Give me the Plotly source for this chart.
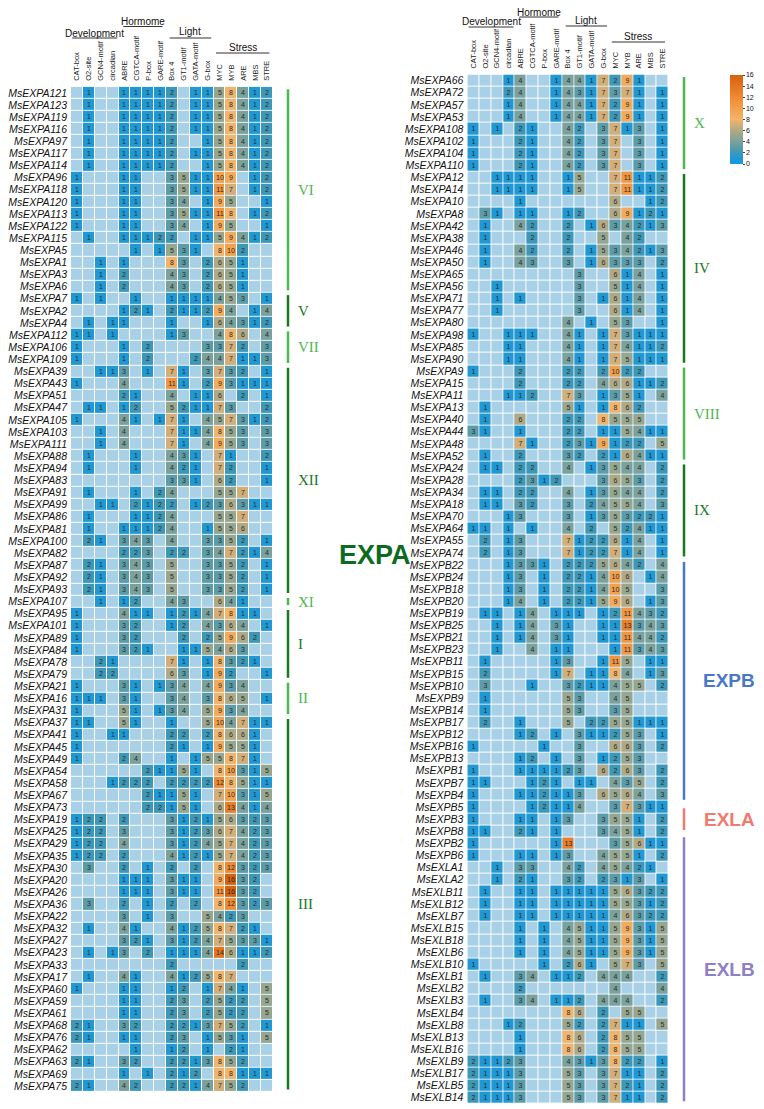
import plotly.graph_objects as go

# the page body keeps its default 8px margin, so the figure is drawn 8px smaller
# and every pixel position below is given in page coordinates
OFF = 8
W, H = 764 - OFF, 1109 - OFF

elements = ['CAT-box', 'O2-site', 'GCN4-motif', 'circadian', 'ABRE', 'CGTCA-motif', 'P-box',
            'GARE-motif', 'Box 4', 'GT1-motif', 'GATA-motif', 'G-box', 'MYC', 'MYB', 'ARE',
            'MBS', 'STRE']
categories = ['Development', 'Hormome', 'Light', 'Stress']
category_spans = [(-0.4, 3.4), (3.9, 7.2), (7.8, 11.3), (11.7, 16.2)]

left_genes = ['MsEXPA121', 'MsEXPA123', 'MsEXPA119', 'MsEXPA116', 'MsEXPA97', 'MsEXPA117',
              'MsEXPA114', 'MsEXPA96', 'MsEXPA118', 'MsEXPA120', 'MsEXPA113', 'MsEXPA122',
              'MsEXPA115', 'MsEXPA5', 'MsEXPA1', 'MsEXPA3', 'MsEXPA6', 'MsEXPA7', 'MsEXPA2',
              'MsEXPA4', 'MsEXPA112', 'MsEXPA106', 'MsEXPA109', 'MsEXPA39', 'MsEXPA43',
              'MsEXPA51', 'MsEXPA47', 'MsEXPA105', 'MsEXPA103', 'MsEXPA111', 'MsEXPA88',
              'MsEXPA94', 'MsEXPA83', 'MsEXPA91', 'MsEXPA99', 'MsEXPA86', 'MsEXPA81',
              'MsEXPA100', 'MsEXPA82', 'MsEXPA87', 'MsEXPA92', 'MsEXPA93', 'MsEXPA107',
              'MsEXPA95', 'MsEXPA101', 'MsEXPA89', 'MsEXPA84', 'MsEXPA78', 'MsEXPA79',
              'MsEXPA21', 'MsEXPA16', 'MsEXPA31', 'MsEXPA37', 'MsEXPA41', 'MsEXPA45',
              'MsEXPA49', 'MsEXPA54', 'MsEXPA58', 'MsEXPA67', 'MsEXPA73', 'MsEXPA19',
              'MsEXPA25', 'MsEXPA29', 'MsEXPA35', 'MsEXPA30', 'MsEXPA20', 'MsEXPA26',
              'MsEXPA36', 'MsEXPA22', 'MsEXPA32', 'MsEXPA27', 'MsEXPA23', 'MsEXPA33',
              'MsEXPA17', 'MsEXPA60', 'MsEXPA59', 'MsEXPA61', 'MsEXPA68', 'MsEXPA76',
              'MsEXPA62', 'MsEXPA63', 'MsEXPA69', 'MsEXPA75']

left_counts = [
    [0, 1, 0, 0, 1, 1, 1, 1, 2, 0, 1, 1, 5, 8, 4, 1, 2],
    [0, 1, 0, 0, 1, 1, 1, 1, 2, 0, 1, 1, 5, 8, 4, 1, 2],
    [0, 1, 0, 0, 1, 1, 1, 1, 2, 0, 1, 1, 5, 8, 4, 1, 2],
    [0, 1, 0, 0, 1, 1, 1, 1, 2, 0, 1, 1, 5, 8, 4, 1, 2],
    [0, 1, 0, 0, 1, 1, 1, 1, 2, 0, 0, 1, 5, 8, 4, 1, 2],
    [0, 1, 0, 0, 1, 1, 1, 1, 2, 0, 1, 1, 5, 8, 4, 1, 2],
    [0, 1, 0, 0, 1, 1, 1, 1, 2, 0, 0, 1, 5, 8, 4, 1, 2],
    [1, 0, 0, 0, 1, 1, 0, 0, 3, 5, 1, 1, 10, 9, 0, 1, 2],
    [1, 0, 0, 0, 1, 1, 0, 0, 3, 5, 1, 1, 11, 7, 0, 1, 2],
    [1, 0, 0, 0, 1, 1, 0, 0, 3, 4, 0, 1, 9, 5, 0, 0, 1],
    [1, 0, 0, 0, 1, 1, 0, 0, 3, 5, 1, 1, 11, 8, 0, 1, 2],
    [1, 0, 0, 0, 1, 1, 0, 0, 3, 4, 0, 1, 9, 5, 0, 0, 1],
    [0, 1, 0, 0, 1, 1, 1, 2, 2, 0, 1, 1, 5, 9, 4, 1, 2],
    [0, 0, 0, 0, 0, 1, 0, 1, 5, 3, 1, 0, 8, 10, 2, 0, 0],
    [0, 0, 1, 0, 1, 0, 0, 0, 8, 3, 0, 2, 6, 5, 1, 0, 0],
    [0, 0, 1, 0, 2, 0, 0, 0, 4, 3, 0, 2, 6, 5, 1, 0, 0],
    [0, 0, 1, 0, 2, 0, 0, 0, 4, 3, 0, 2, 6, 5, 1, 0, 0],
    [1, 0, 1, 0, 0, 1, 0, 0, 1, 1, 1, 1, 4, 5, 3, 0, 1],
    [0, 0, 0, 0, 1, 2, 1, 0, 2, 1, 1, 2, 9, 4, 0, 1, 4],
    [0, 1, 0, 1, 1, 0, 0, 0, 1, 0, 0, 1, 6, 4, 3, 1, 2],
    [1, 1, 0, 1, 0, 0, 0, 0, 1, 3, 0, 0, 4, 8, 6, 0, 4],
    [1, 0, 0, 0, 1, 0, 2, 0, 0, 0, 0, 3, 3, 7, 2, 0, 3],
    [1, 0, 0, 0, 1, 0, 2, 0, 0, 0, 2, 4, 4, 7, 1, 1, 3],
    [0, 0, 1, 1, 3, 0, 1, 0, 7, 1, 0, 3, 7, 3, 2, 0, 1],
    [1, 0, 0, 0, 4, 0, 0, 0, 11, 1, 0, 2, 9, 3, 1, 1, 1],
    [0, 0, 0, 0, 2, 1, 0, 0, 4, 0, 1, 1, 6, 0, 2, 0, 1],
    [0, 1, 1, 0, 1, 2, 0, 0, 5, 2, 1, 1, 7, 3, 0, 0, 2],
    [1, 0, 0, 0, 4, 1, 0, 1, 7, 1, 0, 4, 5, 7, 3, 1, 2],
    [0, 0, 1, 0, 4, 0, 0, 0, 7, 1, 1, 4, 8, 5, 3, 0, 3],
    [0, 0, 1, 0, 4, 0, 0, 0, 7, 1, 0, 4, 9, 5, 3, 0, 3],
    [0, 1, 0, 0, 0, 1, 0, 0, 4, 3, 1, 0, 7, 1, 0, 0, 2],
    [0, 1, 0, 0, 0, 1, 0, 0, 4, 2, 1, 0, 7, 2, 0, 0, 1],
    [0, 0, 0, 0, 0, 0, 0, 0, 3, 3, 1, 0, 6, 2, 0, 0, 1],
    [0, 1, 0, 0, 0, 1, 0, 2, 4, 0, 0, 0, 5, 5, 7, 0, 0],
    [0, 0, 1, 1, 0, 2, 1, 2, 2, 0, 1, 2, 3, 6, 3, 1, 1],
    [0, 1, 0, 0, 0, 1, 1, 2, 4, 0, 0, 0, 5, 5, 7, 0, 0],
    [0, 1, 0, 0, 1, 1, 1, 2, 4, 0, 0, 1, 5, 5, 6, 0, 0],
    [0, 2, 1, 0, 3, 4, 3, 0, 4, 0, 0, 3, 3, 5, 2, 0, 1],
    [0, 0, 0, 0, 2, 2, 3, 0, 2, 2, 0, 3, 4, 7, 2, 1, 4],
    [0, 2, 1, 0, 3, 4, 3, 0, 5, 0, 0, 3, 3, 5, 2, 0, 1],
    [0, 2, 1, 0, 3, 4, 3, 0, 5, 0, 0, 3, 3, 5, 2, 0, 1],
    [0, 2, 1, 0, 3, 4, 3, 0, 5, 0, 0, 3, 3, 5, 2, 0, 1],
    [0, 0, 1, 0, 1, 2, 0, 0, 4, 3, 0, 0, 6, 4, 1, 0, 0],
    [1, 0, 0, 0, 4, 1, 1, 0, 1, 2, 1, 4, 7, 8, 1, 1, 0],
    [1, 0, 0, 0, 3, 2, 0, 0, 1, 2, 0, 4, 3, 6, 4, 0, 1],
    [1, 0, 0, 0, 3, 2, 0, 0, 0, 2, 0, 2, 5, 9, 6, 2, 0],
    [1, 0, 0, 0, 3, 2, 1, 0, 0, 1, 1, 5, 4, 6, 3, 0, 0],
    [0, 0, 2, 1, 0, 0, 0, 0, 7, 1, 0, 1, 8, 3, 2, 1, 0],
    [0, 0, 2, 2, 0, 0, 0, 0, 6, 3, 0, 1, 9, 2, 0, 0, 1],
    [1, 0, 0, 0, 3, 1, 0, 1, 3, 4, 0, 4, 9, 3, 4, 0, 0],
    [1, 1, 1, 0, 3, 1, 0, 0, 3, 4, 0, 3, 8, 6, 5, 0, 1],
    [1, 0, 0, 0, 5, 1, 0, 1, 3, 4, 0, 5, 9, 3, 4, 0, 0],
    [1, 1, 0, 0, 5, 1, 0, 0, 1, 0, 0, 5, 10, 4, 7, 1, 1],
    [1, 0, 0, 1, 1, 0, 0, 0, 2, 2, 0, 2, 8, 6, 6, 1, 0],
    [1, 0, 0, 0, 0, 0, 0, 0, 2, 1, 0, 1, 9, 5, 5, 1, 0],
    [1, 0, 0, 0, 2, 4, 0, 0, 1, 0, 1, 5, 5, 8, 7, 1, 0],
    [0, 0, 0, 0, 0, 0, 2, 1, 1, 5, 1, 0, 8, 10, 3, 1, 5],
    [0, 0, 0, 1, 2, 2, 2, 0, 2, 2, 2, 2, 12, 8, 5, 1, 1],
    [0, 0, 0, 0, 0, 0, 2, 1, 1, 5, 1, 0, 7, 10, 3, 1, 5],
    [0, 0, 0, 0, 0, 0, 2, 2, 1, 5, 1, 0, 6, 13, 4, 1, 4],
    [1, 2, 2, 0, 2, 0, 0, 0, 3, 1, 2, 1, 5, 6, 3, 2, 3],
    [1, 2, 2, 0, 3, 0, 0, 0, 3, 1, 2, 3, 6, 7, 4, 2, 3],
    [1, 2, 2, 0, 4, 0, 0, 0, 3, 1, 2, 4, 5, 7, 4, 2, 3],
    [1, 2, 2, 0, 2, 0, 0, 0, 4, 1, 2, 1, 5, 7, 4, 2, 3],
    [0, 3, 0, 0, 2, 0, 1, 0, 2, 0, 2, 0, 8, 12, 3, 2, 3],
    [0, 0, 0, 0, 1, 1, 1, 0, 3, 1, 1, 0, 9, 16, 3, 2, 0],
    [0, 0, 0, 0, 1, 1, 1, 0, 3, 1, 1, 0, 11, 16, 3, 2, 0],
    [0, 3, 0, 0, 2, 0, 1, 0, 2, 0, 2, 0, 8, 12, 3, 2, 3],
    [0, 0, 0, 0, 3, 0, 1, 0, 3, 0, 0, 5, 4, 2, 3, 0, 0],
    [0, 1, 0, 0, 4, 1, 0, 0, 4, 1, 2, 5, 8, 7, 2, 1, 0],
    [0, 0, 0, 0, 3, 2, 1, 0, 3, 1, 2, 4, 7, 5, 3, 3, 1],
    [0, 1, 0, 1, 3, 0, 2, 0, 1, 1, 1, 4, 14, 6, 1, 1, 2],
    [0, 0, 0, 0, 0, 0, 0, 0, 2, 0, 0, 0, 0, 0, 2, 0, 0],
    [0, 1, 0, 0, 4, 1, 0, 0, 4, 1, 2, 5, 8, 7, 0, 0, 0],
    [1, 0, 0, 0, 1, 1, 0, 0, 1, 2, 0, 1, 7, 4, 1, 0, 5],
    [0, 0, 0, 0, 1, 1, 0, 0, 2, 3, 0, 2, 5, 2, 2, 0, 5],
    [0, 0, 0, 0, 1, 1, 0, 0, 2, 3, 0, 2, 5, 2, 2, 0, 5],
    [2, 1, 0, 0, 3, 2, 0, 0, 2, 2, 1, 3, 7, 5, 2, 0, 1],
    [2, 1, 0, 0, 1, 1, 0, 0, 2, 3, 0, 1, 5, 3, 1, 0, 5],
    [0, 0, 0, 0, 0, 1, 0, 0, 1, 2, 0, 1, 0, 2, 1, 0, 0],
    [2, 1, 0, 0, 3, 2, 0, 0, 2, 2, 1, 3, 8, 5, 2, 0, 0],
    [0, 0, 0, 0, 1, 0, 1, 0, 2, 1, 2, 0, 8, 8, 1, 1, 1],
    [2, 1, 0, 0, 4, 2, 0, 0, 2, 2, 1, 4, 7, 5, 2, 0, 0],
]

right_genes = ['MsEXPA66', 'MsEXPA72', 'MsEXPA57', 'MsEXPA53', 'MsEXPA108', 'MsEXPA102',
               'MsEXPA104', 'MsEXPA110', 'MsEXPA12', 'MsEXPA14', 'MsEXPA10', 'MsEXPA8',
               'MsEXPA42', 'MsEXPA38', 'MsEXPA46', 'MsEXPA50', 'MsEXPA65', 'MsEXPA56',
               'MsEXPA71', 'MsEXPA77', 'MsEXPA80', 'MsEXPA98', 'MsEXPA85', 'MsEXPA90',
               'MsEXPA9', 'MsEXPA15', 'MsEXPA11', 'MsEXPA13', 'MsEXPA40', 'MsEXPA44',
               'MsEXPA48', 'MsEXPA52', 'MsEXPA24', 'MsEXPA28', 'MsEXPA34', 'MsEXPA18',
               'MsEXPA70', 'MsEXPA64', 'MsEXPA55', 'MsEXPA74', 'MsEXPB22', 'MsEXPB24',
               'MsEXPB18', 'MsEXPB20', 'MsEXPB19', 'MsEXPB25', 'MsEXPB21', 'MsEXPB23',
               'MsEXPB11', 'MsEXPB15', 'MsEXPB10', 'MsEXPB9', 'MsEXPB14', 'MsEXPB17',
               'MsEXPB12', 'MsEXPB16', 'MsEXPB13', 'MsEXPB1', 'MsEXPB7', 'MsEXPB4',
               'MsEXPB5', 'MsEXPB3', 'MsEXPB8', 'MsEXPB2', 'MsEXPB6', 'MsEXLA1', 'MsEXLA2',
               'MsEXLB11', 'MsEXLB12', 'MsEXLB7', 'MsEXLB15', 'MsEXLB18', 'MsEXLB6',
               'MsEXLB10', 'MsEXLB1', 'MsEXLB2', 'MsEXLB3', 'MsEXLB4', 'MsEXLB8',
               'MsEXLB13', 'MsEXLB16', 'MsEXLB9', 'MsEXLB17', 'MsEXLB5', 'MsEXLB14']

right_counts = [
    [0, 0, 0, 1, 4, 0, 0, 1, 4, 4, 1, 7, 2, 9, 1, 0, 0],
    [0, 0, 0, 2, 4, 0, 0, 1, 4, 3, 1, 7, 3, 7, 1, 0, 1],
    [0, 0, 0, 1, 4, 0, 0, 1, 4, 4, 1, 7, 2, 9, 1, 0, 1],
    [0, 0, 0, 1, 4, 0, 0, 1, 4, 4, 1, 7, 2, 9, 1, 0, 1],
    [1, 0, 1, 0, 2, 1, 0, 0, 4, 2, 0, 3, 7, 1, 3, 0, 1],
    [1, 0, 0, 0, 2, 1, 0, 0, 4, 2, 0, 3, 7, 0, 3, 0, 1],
    [1, 0, 0, 0, 2, 1, 0, 0, 4, 2, 0, 3, 7, 0, 3, 0, 1],
    [1, 0, 0, 0, 2, 1, 0, 0, 4, 2, 0, 3, 7, 0, 3, 0, 1],
    [0, 0, 1, 1, 1, 1, 0, 0, 1, 5, 0, 0, 7, 11, 1, 1, 2],
    [0, 0, 1, 1, 1, 1, 0, 0, 1, 5, 0, 0, 7, 11, 1, 1, 2],
    [0, 0, 0, 0, 1, 0, 0, 0, 0, 0, 0, 0, 6, 0, 0, 1, 2],
    [0, 3, 1, 0, 1, 1, 0, 0, 1, 2, 0, 0, 6, 9, 1, 2, 1],
    [0, 1, 0, 0, 4, 2, 0, 0, 2, 0, 1, 6, 3, 4, 2, 1, 3],
    [0, 1, 0, 0, 0, 2, 0, 0, 2, 0, 0, 5, 0, 4, 2, 0, 0],
    [0, 1, 0, 0, 4, 2, 0, 0, 2, 0, 1, 5, 3, 4, 2, 1, 3],
    [0, 1, 0, 0, 4, 3, 0, 0, 3, 0, 1, 6, 3, 3, 3, 0, 2],
    [0, 0, 0, 0, 0, 0, 0, 0, 0, 3, 0, 0, 6, 1, 4, 0, 1],
    [0, 0, 1, 0, 0, 0, 0, 0, 0, 3, 0, 0, 5, 1, 4, 0, 1],
    [0, 0, 1, 0, 1, 0, 0, 0, 0, 3, 0, 1, 6, 1, 4, 0, 1],
    [0, 0, 1, 0, 0, 0, 0, 0, 0, 3, 0, 0, 6, 1, 4, 0, 1],
    [0, 0, 0, 0, 0, 0, 0, 0, 4, 0, 1, 0, 5, 3, 0, 0, 1],
    [1, 0, 0, 1, 1, 1, 0, 0, 4, 1, 0, 1, 7, 3, 1, 1, 1],
    [0, 0, 0, 1, 1, 0, 0, 0, 4, 1, 0, 1, 7, 4, 1, 1, 2],
    [0, 0, 0, 1, 1, 0, 0, 0, 4, 1, 0, 1, 7, 5, 1, 1, 1],
    [1, 0, 0, 0, 2, 0, 0, 0, 2, 2, 0, 2, 10, 2, 2, 0, 0],
    [0, 0, 0, 0, 2, 0, 0, 0, 2, 2, 0, 4, 6, 6, 1, 1, 2],
    [0, 0, 0, 1, 1, 2, 0, 0, 7, 3, 0, 1, 3, 5, 1, 0, 4],
    [0, 1, 0, 0, 0, 0, 0, 0, 5, 1, 0, 1, 8, 6, 2, 0, 0],
    [0, 1, 0, 0, 6, 0, 0, 0, 2, 2, 0, 8, 5, 5, 5, 0, 0],
    [3, 1, 0, 0, 1, 0, 0, 0, 2, 2, 0, 1, 1, 5, 4, 1, 1],
    [0, 0, 0, 0, 7, 1, 0, 0, 2, 3, 1, 9, 1, 2, 2, 0, 5],
    [0, 1, 0, 0, 2, 0, 0, 0, 3, 2, 0, 2, 1, 6, 4, 1, 1],
    [0, 1, 1, 0, 2, 2, 0, 0, 4, 0, 1, 3, 5, 4, 4, 0, 2],
    [0, 0, 0, 0, 2, 3, 1, 2, 0, 0, 0, 3, 6, 5, 3, 0, 2],
    [0, 1, 1, 0, 2, 2, 0, 0, 4, 0, 1, 3, 5, 4, 4, 0, 2],
    [0, 1, 1, 0, 3, 2, 0, 0, 3, 0, 2, 4, 5, 5, 4, 0, 3],
    [0, 0, 0, 1, 3, 0, 0, 0, 3, 0, 1, 3, 5, 3, 2, 2, 1],
    [1, 1, 0, 1, 0, 1, 0, 0, 4, 0, 2, 0, 5, 2, 4, 1, 1],
    [0, 2, 0, 1, 3, 0, 0, 0, 7, 1, 2, 2, 6, 1, 4, 0, 1],
    [0, 2, 0, 1, 3, 0, 0, 0, 7, 1, 2, 2, 7, 1, 4, 0, 1],
    [0, 0, 0, 1, 3, 3, 1, 0, 2, 2, 2, 5, 6, 4, 2, 0, 4],
    [0, 0, 0, 1, 3, 0, 1, 0, 2, 2, 1, 4, 10, 6, 0, 1, 4],
    [0, 0, 0, 1, 3, 0, 1, 0, 2, 2, 1, 4, 10, 5, 0, 0, 3],
    [0, 0, 0, 1, 4, 0, 1, 0, 2, 2, 1, 5, 9, 6, 0, 1, 3],
    [0, 1, 1, 0, 1, 4, 0, 1, 1, 1, 0, 1, 2, 11, 4, 3, 2],
    [0, 0, 1, 0, 1, 4, 0, 3, 1, 0, 0, 1, 1, 13, 3, 4, 3],
    [0, 0, 1, 0, 1, 4, 0, 3, 1, 0, 0, 1, 1, 11, 4, 4, 2],
    [0, 0, 1, 0, 0, 4, 0, 1, 1, 0, 0, 0, 1, 11, 3, 4, 3],
    [0, 1, 0, 0, 0, 0, 0, 1, 3, 0, 0, 1, 11, 5, 0, 1, 1],
    [0, 2, 0, 0, 0, 0, 0, 1, 7, 0, 1, 1, 8, 4, 0, 1, 3],
    [0, 3, 0, 0, 0, 1, 0, 0, 3, 2, 1, 1, 4, 5, 5, 0, 2],
    [0, 1, 0, 0, 0, 0, 0, 0, 5, 3, 0, 0, 4, 5, 0, 0, 0],
    [0, 1, 0, 0, 0, 0, 0, 0, 5, 3, 0, 0, 3, 5, 0, 0, 0],
    [0, 2, 0, 0, 1, 0, 0, 0, 5, 0, 2, 2, 5, 5, 1, 1, 1],
    [0, 0, 0, 0, 1, 2, 0, 1, 0, 3, 1, 1, 2, 5, 3, 0, 1],
    [1, 0, 0, 0, 0, 0, 1, 0, 0, 3, 0, 0, 6, 6, 3, 0, 2],
    [0, 0, 0, 0, 1, 2, 0, 1, 0, 3, 0, 1, 2, 5, 3, 0, 0],
    [1, 0, 0, 0, 1, 1, 1, 1, 2, 3, 0, 6, 2, 6, 3, 0, 2],
    [1, 1, 0, 0, 0, 1, 2, 1, 0, 1, 1, 0, 4, 3, 5, 0, 2],
    [1, 0, 0, 0, 1, 1, 2, 1, 1, 3, 0, 6, 5, 6, 4, 0, 3],
    [1, 0, 0, 0, 0, 1, 2, 1, 1, 4, 0, 0, 3, 7, 3, 1, 1],
    [1, 0, 0, 0, 1, 1, 0, 1, 3, 0, 0, 3, 5, 5, 1, 0, 2],
    [1, 1, 0, 0, 2, 1, 0, 1, 0, 0, 0, 3, 4, 5, 1, 0, 2],
    [1, 0, 0, 0, 0, 0, 0, 1, 13, 0, 0, 0, 3, 5, 6, 1, 1],
    [1, 0, 0, 0, 1, 1, 0, 1, 3, 0, 0, 4, 5, 5, 1, 0, 2],
    [0, 0, 1, 0, 3, 3, 0, 0, 4, 2, 0, 4, 5, 4, 2, 1, 0],
    [0, 0, 1, 0, 2, 1, 0, 0, 3, 2, 0, 2, 3, 1, 3, 0, 1],
    [0, 1, 0, 0, 1, 1, 0, 1, 1, 1, 1, 1, 5, 6, 3, 2, 2],
    [0, 1, 0, 0, 1, 1, 0, 1, 1, 1, 1, 1, 5, 5, 3, 1, 2],
    [0, 1, 0, 0, 1, 1, 0, 1, 1, 1, 1, 1, 4, 6, 3, 2, 2],
    [0, 0, 0, 0, 1, 0, 1, 0, 4, 5, 1, 1, 5, 9, 3, 1, 5],
    [0, 0, 0, 0, 1, 0, 1, 0, 4, 5, 1, 1, 5, 9, 3, 1, 5],
    [0, 0, 0, 0, 1, 0, 1, 0, 4, 5, 1, 1, 5, 9, 3, 1, 5],
    [1, 0, 0, 0, 0, 0, 1, 0, 2, 6, 1, 0, 5, 7, 3, 0, 5],
    [0, 1, 0, 0, 3, 4, 0, 1, 1, 2, 0, 4, 4, 4, 0, 0, 2],
    [0, 0, 0, 0, 2, 0, 0, 0, 0, 0, 0, 0, 4, 0, 0, 0, 4],
    [0, 1, 0, 0, 3, 4, 0, 1, 1, 2, 0, 4, 4, 4, 0, 0, 2],
    [0, 0, 0, 0, 0, 0, 0, 0, 8, 6, 0, 2, 0, 5, 5, 0, 0],
    [0, 0, 0, 1, 2, 0, 0, 0, 5, 2, 0, 2, 7, 1, 1, 0, 5],
    [0, 0, 0, 0, 1, 0, 0, 0, 8, 6, 0, 2, 8, 5, 5, 0, 0],
    [0, 0, 0, 0, 1, 0, 0, 0, 8, 6, 0, 2, 8, 5, 5, 0, 0],
    [2, 1, 1, 2, 3, 0, 0, 0, 4, 3, 1, 3, 8, 2, 2, 0, 1],
    [2, 1, 1, 1, 3, 0, 0, 0, 5, 3, 0, 3, 7, 1, 1, 0, 2],
    [2, 1, 1, 1, 3, 0, 0, 0, 5, 3, 0, 3, 7, 2, 1, 0, 2],
    [2, 1, 1, 1, 3, 0, 0, 0, 5, 3, 0, 3, 7, 1, 1, 0, 2],
]

# subfamily clades (name, number of rows)
left_clades = ['VI', 'V', 'VII', 'XII', 'XI', 'I', 'II', 'III']
left_clade_sizes = [17, 3, 3, 19, 1, 6, 3, 31]
right_clades = ['X', 'IV', 'VIII', 'IX']
right_clade_sizes = [8, 16, 8, 8]
families = ['EXPB', 'EXLA', 'EXLB']

EMPTY = '#a8d0e6'
LIGHT_GREEN = '#4db84f'
DARK_GREEN = '#187a1f'
colorscale = [[0, '#149be6'], [1/16, '#1f98d4'], [2/16, '#3d98b8'], [3/16, '#5c9ca8'],
              [4/16, '#7aa19b'], [5/16, '#96a68f'], [6/16, '#b0a986'], [7/16, '#d3ae78'],
              [8/16, '#f2b36a'], [10/16, '#f3a04c'], [12/16, '#ee8a33'], [14/16, '#e5741f'],
              [1, '#d8600b']]


def px(x):
    return (x - OFF) / W


def py(y):
    return 1 - (y - OFF) / H


fig = go.Figure()
layout = {}
shapes = []
annots = []


def panel(genes, counts, k, xdom, ydom):
    n = len(genes)
    xa, ya = ('x', 'y') if k == 1 else ('x%d' % k, 'y%d' % k)
    fig.add_trace(go.Heatmap(z=[[0] * 17 for _ in genes], x=list(range(17)), y=list(range(n)),
                             colorscale=[[0, EMPTY], [1, EMPTY]], showscale=False,
                             xgap=1, ygap=1, hoverinfo='skip', xaxis=xa, yaxis=ya))
    z = [[v if v else None for v in row] for row in counts]
    txt = [[str(v) if v else '' for v in row] for row in counts]
    fig.add_trace(go.Heatmap(z=z, x=list(range(17)), y=list(range(n)), text=txt,
                             texttemplate='%{text}',
                             textfont=dict(size=7, color='#2a2a2a', family='Liberation Sans'),
                             coloraxis='coloraxis', xgap=1, ygap=1, xaxis=xa, yaxis=ya))
    sfx = '' if k == 1 else str(k)
    layout['xaxis' + sfx] = dict(domain=xdom, range=[-0.5, 16.5], side='top', anchor=ya,
                                 tickvals=list(range(17)), ticktext=elements, tickangle=-90,
                                 tickfont=dict(size=7.5, color='#222'), showgrid=False,
                                 zeroline=False, ticks='', showline=False, automargin=False,
                                 ticklabelstandoff=5)
    layout['yaxis' + sfx] = dict(domain=ydom, range=[n - 0.5, -0.5], anchor=xa,
                                 tickvals=list(range(n)),
                                 ticktext=['<i>%s</i>' % g for g in genes],
                                 tickfont=dict(size=10.5, color='#111'), showgrid=False,
                                 zeroline=False, ticks='', showline=False, automargin=False,
                                 ticklabelstandoff=3)


panel(left_genes, left_counts, 1, [px(71), px(273)], [py(1092), py(86.8)])
panel(right_genes, right_counts, 2, [px(467.4), px(668.6)], [py(1103.7), py(74.6)])

# category headers with underlines
header_y = {1: [(33, 38), (22, 26.5), (32, 38), (47.5, 53)],
            2: [(22, 27), (13, 17), (20.5, 26), (36, 42)]}
for k, xr in ((1, 'x'), (2, 'x2')):
    for name, (a, b), (ty, ly) in zip(categories, category_spans, header_y[k]):
        annots.append(dict(x=(a + b) / 2, y=py(ty), xref=xr, yref='paper', text=name,
                           xanchor='center', yanchor='middle',
                           showarrow=False, font=dict(size=10, color='#111')))
        shapes.append(dict(type='line', xref=xr, yref='paper', x0=a, x1=b, y0=py(ly), y1=py(ly),
                           line=dict(color='#333', width=1)))


def clade_marks(names, sizes, yr, bar_x, text_x):
    s = 0
    for i, (name, k) in enumerate(zip(names, sizes)):
        col = LIGHT_GREEN if i % 2 == 0 else DARK_GREEN
        shapes.append(dict(type='line', xref='paper', yref=yr, x0=px(bar_x), x1=px(bar_x),
                           y0=s - 0.5 + 0.2, y1=s + k - 0.5 - 0.2, line=dict(color=col, width=2.5)))
        annots.append(dict(x=px(text_x), y=s + (k - 1) / 2, xref='paper', yref=yr, text=name,
                           xanchor='left', yanchor='middle', showarrow=False,
                           font=dict(size=15, color=col, family='Liberation Serif')))
        s += k


clade_marks(left_clades, left_clade_sizes, 'y', 288, 296)
clade_marks(right_clades, right_clade_sizes, 'y2', 684, 692)

# family bars on the right panel, drawn where the original figure puts them
fam_colors = ['#4a78c8', '#f2796e', '#8e80c4']
fam_rows = [(39.75, 59.4), (60.1, 61.9), (62.5, 84.3)]
for name, col, (a, b) in zip(families, fam_colors, fam_rows):
    shapes.append(dict(type='line', xref='paper', yref='y2', x0=px(684), x1=px(684), y0=a, y1=b,
                       line=dict(color=col, width=2.5)))
    annots.append(dict(x=px(729), y=(a + b) / 2, xref='paper', yref='y2', text='<b>%s</b>' % name,
                       xanchor='center', yanchor='middle', showarrow=False,
                       font=dict(size=19, color=col, family='Liberation Sans')))

annots.append(dict(x=px(375), y=py(555), xref='paper', yref='paper', text='<b>EXPA</b>',
                   xanchor='center', yanchor='middle', showarrow=False,
                   font=dict(size=27, color='#0d6b1f', family='Liberation Sans')))

fig.update_layout(
    width=W, height=H,
    margin=dict(l=0, r=0, t=0, b=0),
    paper_bgcolor='white', plot_bgcolor='white',
    font=dict(family='Liberation Sans', color='#111'),
    coloraxis=dict(cmin=0, cmax=16, colorscale=colorscale,
                   colorbar=dict(x=px(730), xanchor='left', y=py(75), yanchor='top',
                                 len=89 / H, lenmode='fraction', thickness=13,
                                 xpad=0, ypad=0,
                                 tickvals=list(range(0, 17, 2)), tickfont=dict(size=7),
                                 ticks='outside', ticklen=2, outlinewidth=0)),
    shapes=shapes, annotations=annots,
    **layout
)

fig.write_html("out.html")
